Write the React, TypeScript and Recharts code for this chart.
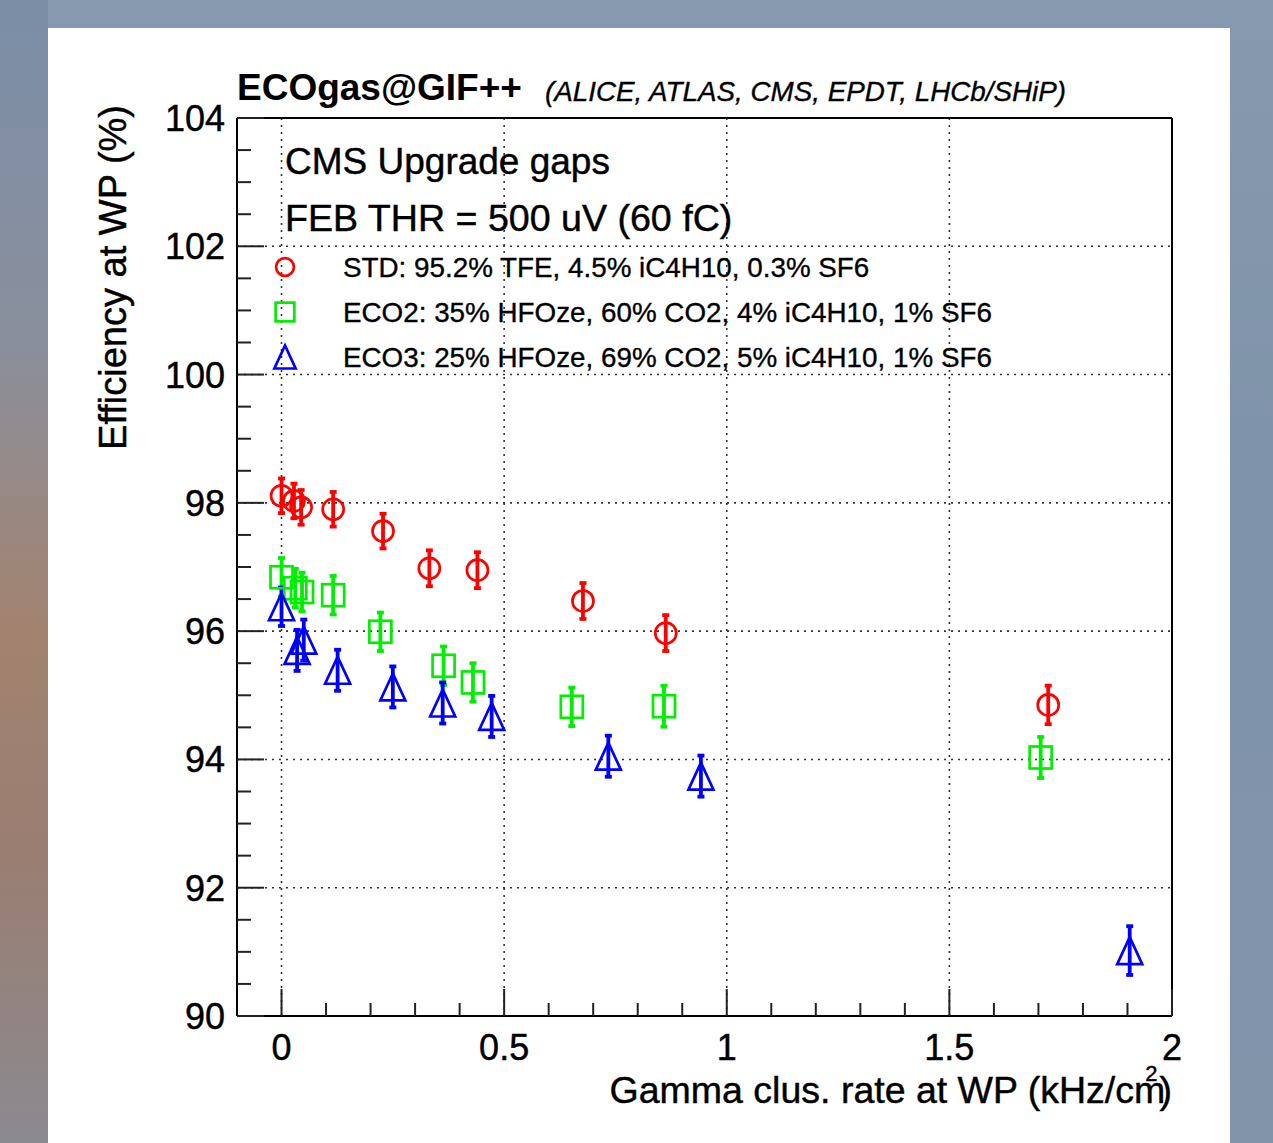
import { ErrorBar, Legend, ReferenceLine, Scatter, ScatterChart, XAxis, YAxis } from 'recharts'

// STD gas mixture, CMS upgrade gaps
const stdRate = [0.0, 0.028, 0.044, 0.116, 0.228, 0.332, 0.44, 0.677, 0.863, 1.722]
const stdEff = [98.11, 98.03, 97.93, 97.9, 97.56, 96.98, 96.95, 96.47, 95.97, 94.85]
const stdErr = [0.27, 0.27, 0.27, 0.27, 0.27, 0.28, 0.28, 0.28, 0.28, 0.3]

// ECO2
const eco2Rate = [0.0, 0.031, 0.046, 0.116, 0.222, 0.364, 0.43, 0.652, 0.859, 1.705]
const eco2Eff = [96.84, 96.67, 96.61, 96.56, 95.99, 95.46, 95.2, 94.82, 94.83, 94.03]
const eco2Err = [0.3, 0.3, 0.3, 0.3, 0.3, 0.3, 0.3, 0.3, 0.32, 0.32]

// ECO3
const eco3Rate = [0.0, 0.035, 0.05, 0.126, 0.25, 0.362, 0.472, 0.734, 0.942, 1.905]
const eco3Eff = [96.38, 95.7, 95.86, 95.39, 95.13, 94.88, 94.67, 94.05, 93.74, 91.02]
const eco3Err = [0.3, 0.32, 0.32, 0.32, 0.32, 0.32, 0.32, 0.32, 0.32, 0.38]

const xTicks = [0, 0.1, 0.2, 0.3, 0.4, 0.5, 0.6, 0.7, 0.8, 0.9, 1, 1.1, 1.2, 1.3, 1.4, 1.5, 1.6, 1.7, 1.8, 1.9, 2]
const xLabels = [0, 0.5, 1, 1.5, 2]
const yTicks = [90, 90.5, 91, 91.5, 92, 92.5, 93, 93.5, 94, 94.5, 95, 95.5, 96, 96.5, 97, 97.5, 98, 98.5, 99, 99.5, 100, 100.5, 101, 101.5, 102, 102.5, 103, 103.5, 104]
const yLabels = [90, 92, 94, 96, 98, 100, 102, 104]
const xGrid = [0, 0.5, 1, 1.5]
const yGrid = [92, 94, 96, 98, 100, 102]

const legendItems = [
  { name: 'STD: 95.2% TFE, 4.5% iC4H10, 0.3% SF6', color: '#ff0000', shape: 'circle' },
  { name: 'ECO2: 35% HFOze, 60% CO2, 4% iC4H10, 1% SF6', color: '#00ee00', shape: 'square' },
  { name: 'ECO3: 25% HFOze, 69% CO2, 5% iC4H10, 1% SF6', color: '#0000ff', shape: 'triangle' },
]

const toPoints = (xs: number[], ys: number[], es: number[]) => xs.map((x, i) => ({ x, y: ys[i], err: es[i] }))
const stdData = toPoints(stdRate, stdEff, stdErr)
const eco2Data = toPoints(eco2Rate, eco2Eff, eco2Err)
const eco3Data = toPoints(eco3Rate, eco3Eff, eco3Err)

const FONT = '"Liberation Sans", Arial, Helvetica, sans-serif'
// ROOT's antialiased Helvetica looks a little heavier than plain Liberation Sans
const INK = { fill: '#000', stroke: '#000', strokeWidth: 0.45 }

function marker(shape: string, color: string, cx: number, cy: number, s = 1) {
  if (shape === 'circle') {
    return <circle cx={cx} cy={cy} r={10.5 * s} fill="none" stroke={color} strokeWidth={2.7} />
  }
  if (shape === 'square') {
    const h = 11 * s
    return <rect x={cx - h} y={cy - h} width={2 * h} height={2 * h} fill="none" stroke={color} strokeWidth={2.7} />
  }
  const w = 12.5 * s
  const h = 13.5 * s
  return (
    <polygon
      points={`${cx},${cy - h} ${cx - w},${cy + h} ${cx + w},${cy + h}`}
      fill="none"
      stroke={color}
      strokeWidth={2.7}
      strokeLinejoin="miter"
    />
  )
}

const shapeFor = (shape: string, color: string) => (p: any) => marker(shape, color, p.cx, p.cy)

function XTick(props: any) {
  const { x, y, payload } = props
  const v = payload.value
  const major = xLabels.includes(v)
  return (
    <g>
      <line x1={x} x2={x} y1={y} y2={y - (major ? 27 : 13)} stroke="#222" strokeWidth={2} />
      {major ? (
        <text x={x} y={y + 44} textAnchor="middle" fontSize={36} fontFamily={FONT} {...INK}>
          {v}
        </text>
      ) : null}
    </g>
  )
}

function YTick(props: any) {
  const { x, y, payload } = props
  const v = payload.value
  const major = yLabels.includes(v)
  return (
    <g>
      <line x1={x} x2={x + (major ? 27 : 14)} y1={y} y2={y} stroke="#222" strokeWidth={2} />
      {major ? (
        <text x={x - 12} y={y + 13} textAnchor="end" fontSize={36} fontFamily={FONT} {...INK}>
          {v}
        </text>
      ) : null}
    </g>
  )
}

function LegendBox() {
  return (
    <svg width={760} height={140} style={{ display: 'block' }}>
      {legendItems.map((item, i) => (
        <g key={item.name}>
          {marker(item.shape, item.color, 20, 22 + i * 45, 0.85)}
          <text x={78} y={32 + i * 45} fontSize={27.8} fontFamily={FONT} {...INK} strokeWidth={0.35}>
            {item.name}
          </text>
        </g>
      ))}
    </svg>
  )
}

export default function App() {
  return (
    <div
      style={{
        position: 'absolute',
        left: 0,
        top: 0,
        width: 1273,
        height: 1143,
        overflow: 'hidden',
        background: 'linear-gradient(180deg, #8799ae 0%, #7f93aa 40%, #8194aa 100%)',
      }}
    >
      <div
        style={{
          position: 'absolute',
          left: 0,
          top: 0,
          width: 48,
          height: 1143,
          background: 'linear-gradient(180deg, #7b8ea7 0%, #8a8f9c 30%, #a3836f 55%, #9a7e72 75%, #8b8a90 100%)',
        }}
      />
      <div style={{ position: 'absolute', left: 48, top: 28, width: 1182, height: 1115, background: '#fff' }} />
      <ScatterChart
        width={1273}
        height={1143}
        margin={{ top: 118, right: 101, bottom: 67, left: 137 }}
        style={{ position: 'absolute', left: 0, top: 0 }}
      >
        <XAxis
          type="number"
          dataKey="x"
          domain={[-0.1, 2]}
          ticks={xTicks}
          interval={0}
          height={60}
          tickSize={0}
          tickMargin={0}
          tickLine={false}
          tick={<XTick />}
          axisLine={{ stroke: '#000', strokeWidth: 2 }}
        />
        <YAxis
          type="number"
          dataKey="y"
          domain={[90, 104]}
          ticks={yTicks}
          interval={0}
          width={100}
          tickSize={0}
          tickMargin={0}
          tickLine={false}
          tick={<YTick />}
          axisLine={{ stroke: '#000', strokeWidth: 2 }}
        />
        {yGrid.map(v => (
          <ReferenceLine key={`h${v}`} y={v} stroke="#333" strokeWidth={1.6} strokeDasharray="2 5" />
        ))}
        {xGrid.map(v => (
          <ReferenceLine key={`v${v}`} x={v} stroke="#333" strokeWidth={1.6} strokeDasharray="2 5" />
        ))}
        <ReferenceLine y={104} stroke="#000" strokeWidth={2} />
        <ReferenceLine x={2} stroke="#000" strokeWidth={2} />
        <Legend
          layout="vertical"
          align="center"
          verticalAlign="middle"
          content={<LegendBox />}
          wrapperStyle={{ left: 265, top: 245, width: 760, height: 140 }}
        />
        <Scatter name="STD" data={stdData} shape={shapeFor('circle', '#ff0000')} isAnimationActive={false}>
          <ErrorBar dataKey="err" direction="y" width={3.5} stroke="#ff0000" strokeWidth={3.8} isAnimationActive={false} />
        </Scatter>
        <Scatter name="ECO2" data={eco2Data} shape={shapeFor('square', '#00ee00')} isAnimationActive={false}>
          <ErrorBar dataKey="err" direction="y" width={3.5} stroke="#00ee00" strokeWidth={3.8} isAnimationActive={false} />
        </Scatter>
        <Scatter name="ECO3" data={eco3Data} shape={shapeFor('triangle', '#0000ff')} isAnimationActive={false}>
          <ErrorBar dataKey="err" direction="y" width={3.5} stroke="#0000ff" strokeWidth={3.8} isAnimationActive={false} />
        </Scatter>
      </ScatterChart>
      <svg
        width={1273}
        height={1143}
        style={{ position: 'absolute', left: 0, top: 0, pointerEvents: 'none' }}
        fontFamily={FONT}
      >
        <text x={237} y={100} fontSize={37} fontWeight="bold" fill="#000">
          ECOgas@GIF++
        </text>
        <text x={545} y={101} fontSize={27.8} fontStyle="italic" {...INK} strokeWidth={0.35}>
          (ALICE, ATLAS, CMS, EPDT, LHCb/SHiP)
        </text>
        <text x={285} y={174} fontSize={37} {...INK}>
          CMS Upgrade gaps
        </text>
        <text x={285} y={231} fontSize={37.6} {...INK}>
          FEB THR = 500 uV (60 fC)
        </text>
        <text transform="translate(126,105) rotate(-90)" textAnchor="end" fontSize={38} {...INK}>
          Efficiency at WP (%)
        </text>
        <text x={1172} y={1103} textAnchor="end" fontSize={37.5} {...INK}>
          Gamma clus. rate at WP (kHz/cm
          <tspan dx={-20} dy={-22} fontSize={22}>
            2
          </tspan>
          <tspan dx={2} dy={22}>)</tspan>
        </text>
      </svg>
    </div>
  )
}
